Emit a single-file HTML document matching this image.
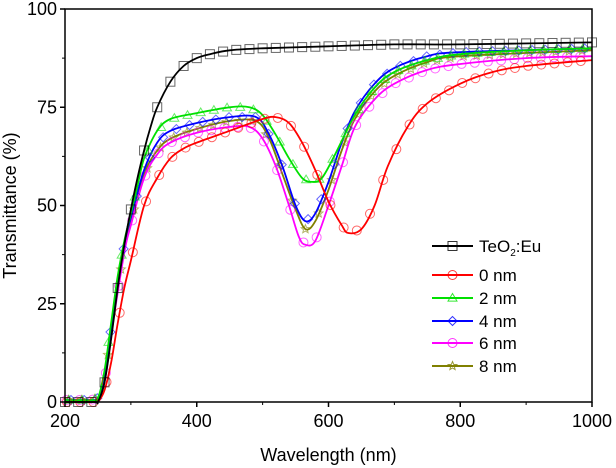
<!DOCTYPE html>
<html><head><meta charset="utf-8"><style>
body{margin:0;background:#fff;}
svg{display:block;font-family:"Liberation Sans",Arial,sans-serif;}
</style></head><body>
<svg id="chart" width="616" height="468" viewBox="0 0 616 468" xmlns="http://www.w3.org/2000/svg">
<g id="series"></g>
<g id="axes"></g>
<g id="legend"></g>
</svg>
<script>
const xTicks=[200,400,600,800,1000];
const yTicks=[0,25,50,75,100];
const seriesNames=["TeO2:Eu","0 nm","2 nm","4 nm","6 nm","8 nm"];
const seriesColors=["#000000","#ff0000","#00e000","#0000ff","#ff00ff","#808000"];
const seriesMarkers=["square","circle","triangle","diamond","circle","star"];
const wlBlack=[200,245,250,260,270,280,290,300,310,320,330,340,360,380,400,420,450,500,600,700,800,1000];
const tBlack=[0,0,0,5,16,29,40,49,57,64,70,75,81.5,85.5,87.5,88.5,89.5,90,90.5,91,91,91.5];
const wlRed=[200,245,250,260,270,280,290,300,320,340,360,380,400,450,500,520,540,560,580,600,620,630,650,670,690,720,750,800,850,900,1000];
const tRed=[0,0,0,3,10,20,29,36,50,57,62,64.5,66,69,72,72.5,71,66,59,51,45,43,44,50,60,70,76,81,84,85.5,87];
const wlGreen=[200,240,250,260,270,280,290,300,310,320,340,360,400,450,480,500,520,540,560,575,590,610,640,670,700,750,800,900,1000];
const tGreen=[0.5,0.5,1,8,20,32,41,48,55,62,69,72,73.5,75,75,73,68,62,57,56,57,63,73,80,84,87,88.5,89.5,90];
const wlBlue=[200,240,250,260,270,290,300,320,340,360,400,450,490,510,530,550,565,580,600,620,640,670,700,750,800,1000];
const tBlue=[0.5,0.5,1,7,19,40,47,59,66,69,71,72.5,72.5,68,60,50,46,48,56,66,74,81,85,88,89,90];
const wlMag=[200,240,250,260,270,290,300,320,340,360,400,450,480,500,520,540,555,565,580,600,620,640,670,700,750,800,900,1000];
const tMag=[0.5,0.5,1,5,17,38,45,57,63,66,68.5,70,70,67,60,50,42,40,41,50,60,70,77,81,84.5,86,87.5,88];
const wlOlive=[200,240,250,260,270,290,300,320,340,360,400,450,490,510,530,550,565,580,600,620,640,670,700,750,800,1000];
const tOlive=[0.5,0.5,1,6,18,39,46,58,64,67,69.5,71.5,71.5,67,58,49,44,46,54,64,72,79,83,86.5,88,89.5];
const allWl=[wlBlack,wlRed,wlGreen,wlBlue,wlMag,wlOlive];
const allT=[tBlack,tRed,tGreen,tBlue,tMag,tOlive];

const X0=65,X1=592,Y0=402,Y1=9;
const sx=v=>X0+(v-200)/800*(X1-X0);
const sy=v=>Y0-v/100*(Y0-Y1);
const NS="http://www.w3.org/2000/svg";
function mk(tag,attrs,parent){const e=document.createElementNS(NS,tag);for(const k in attrs)e.setAttribute(k,attrs[k]);parent.appendChild(e);return e;}
function pathD(pts){
  let d="M"+pts[0][0]+","+pts[0][1];
  for(let i=0;i<pts.length-1;i++){
    const p0=pts[Math.max(0,i-1)],p1=pts[i],p2=pts[i+1],p3=pts[Math.min(pts.length-1,i+2)];
    const c1=[p1[0]+(p2[0]-p0[0])/6,p1[1]+(p2[1]-p0[1])/6];
    const c2=[p2[0]-(p3[0]-p1[0])/6,p2[1]-(p3[1]-p1[1])/6];
    d+=" C"+c1[0].toFixed(1)+","+c1[1].toFixed(1)+" "+c2[0].toFixed(1)+","+c2[1].toFixed(1)+" "+p2[0].toFixed(1)+","+p2[1].toFixed(1);
  }
  return d;
}
function interp(wl,t,x){for(let i=0;i<wl.length-1;i++){if(x>=wl[i]&&x<=wl[i+1]){return t[i]+(t[i+1]-t[i])*(x-wl[i])/(wl[i+1]-wl[i]);}}return t[t.length-1];}
function marker(type,cx,cy,color,parent,op){
  const r=4.5;let e;
  const st={fill:"none",stroke:color,"stroke-width":1,"stroke-opacity":op};
  if(type==="square"){e=mk("rect",Object.assign({x:cx-r,y:cy-r,width:2*r,height:2*r},st),parent);}
  else if(type==="circle"){e=mk("circle",Object.assign({cx:cx,cy:cy,r:r},st),parent);}
  else if(type==="triangle"){e=mk("polygon",Object.assign({points:`${cx},${cy-r} ${cx-r},${cy+r*0.7} ${cx+r},${cy+r*0.7}`},st),parent);}
  else if(type==="diamond"){e=mk("polygon",Object.assign({points:`${cx},${cy-r} ${cx+r},${cy} ${cx},${cy+r} ${cx-r},${cy}`},st),parent);}
  else {let p=[];for(let k=0;k<10;k++){const a=-Math.PI/2+k*Math.PI/5,rr=k%2?r*0.45:r;p.push((cx+rr*Math.cos(a)).toFixed(1)+","+(cy+rr*Math.sin(a)).toFixed(1));}e=mk("polygon",Object.assign({points:p.join(" ")},st),parent);}
  return e;
}
const gS=document.getElementById("series");
for(let s=allWl.length-1;s>=0;s--){
  const g=mk("g",{},gS);
  
  
  for(let w=200+(s*3)%10;w<=1000;w+=20){
    const m=marker(seriesMarkers[s],sx(w),sy(interp(allWl[s],allT[s],w)),seriesColors[s],g,0.6);
    
    
  }
  const pts=allWl[s].map((w,i)=>[sx(w),sy(allT[s][i])]);
  const p=mk("path",{d:pathD(pts),fill:"none",stroke:seriesColors[s],"stroke-width":1.8},g);
  
  
}
const gA=document.getElementById("axes");
const frame=mk("rect",{x:X0,y:Y1,width:X1-X0,height:Y0-Y1,fill:"none",stroke:"#000","stroke-width":1.5},gA);


xTicks.forEach(v=>{
  mk("line",{x1:sx(v),x2:sx(v),y1:Y0,y2:Y0+5,stroke:"#000","stroke-width":1.5},gA);
  const t=mk("text",{x:sx(v),y:Y0+25,"text-anchor":"middle","font-size":18},gA);t.textContent=v;
  
  
});
for(let v=300;v<1000;v+=200)mk("line",{x1:sx(v),x2:sx(v),y1:Y0,y2:Y0+3,stroke:"#000","stroke-width":1},gA);
yTicks.forEach(v=>{
  mk("line",{x1:X0-5,x2:X0,y1:sy(v),y2:sy(v),stroke:"#000","stroke-width":1.5},gA);
  const t=mk("text",{x:X0-8,y:sy(v)+6,"text-anchor":"end","font-size":18},gA);t.textContent=v;
  
  
});
for(let v=12.5;v<100;v+=25)mk("line",{x1:X0-3,x2:X0,y1:sy(v),y2:sy(v),stroke:"#000","stroke-width":1},gA);
const xt=mk("text",{x:(X0+X1)/2,y:461,"text-anchor":"middle","font-size":18},gA);xt.textContent="Wavelength (nm)";


const yt=mk("text",{x:0,y:0,"text-anchor":"middle","font-size":18,transform:`translate(16,${(Y0+Y1)/2}) rotate(-90)`},gA);yt.textContent="Transmittance (%)";


const gL=document.getElementById("legend");


const legY=[246,275,298,321,343,366];
seriesNames.forEach((n,i)=>{
  const g=mk("g",{},gL);
  
  
  mk("line",{x1:432,x2:473,y1:legY[i],y2:legY[i],stroke:seriesColors[i],"stroke-width":2},g);
  marker(seriesMarkers[i],452.5,legY[i],seriesColors[i],g,0.8);
  const t=mk("text",{x:479,y:legY[i]+6,"font-size":17},g);
  if(i===0){t.innerHTML='TeO<tspan font-size="10" dy="4">2</tspan><tspan dy="-4">:Eu</tspan>';}
  else t.textContent=n;
});
</script>
</body></html>
